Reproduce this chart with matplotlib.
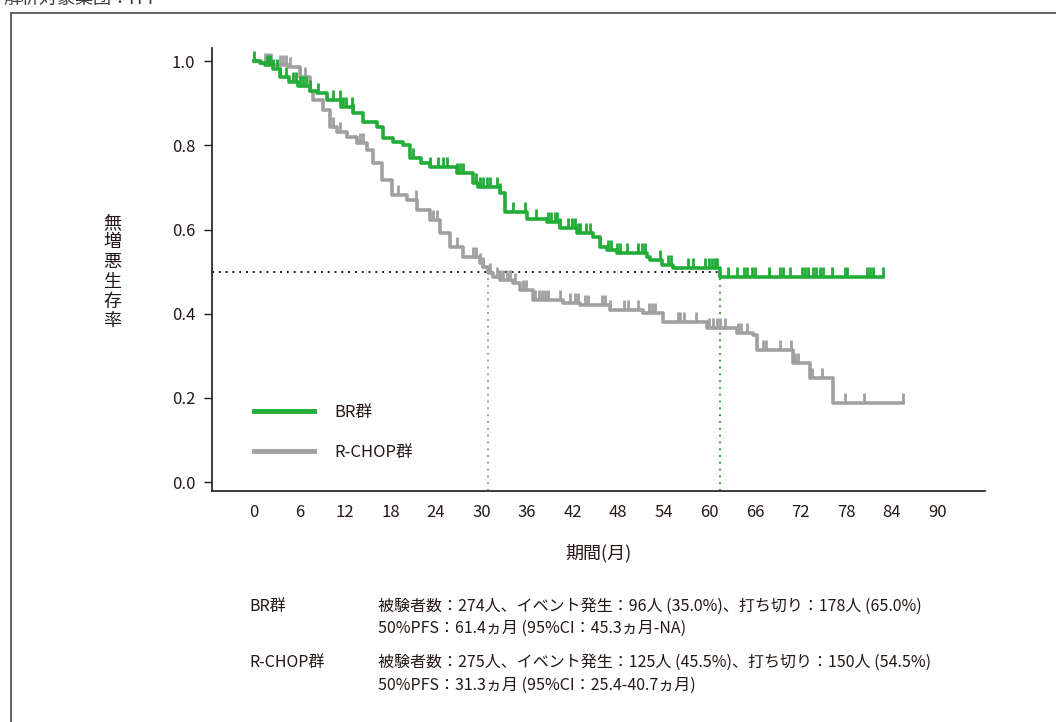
import numpy as np
import matplotlib
matplotlib.use('Agg')
import matplotlib.pyplot as plt
from matplotlib.lines import Line2D

plt.rcParams['font.family'] = ['Noto Sans CJK JP', 'DejaVu Sans']

# DADOS
br_t = [0, 0.8, 1.5, 2.5, 3.4, 4.7, 5.8, 7.4, 8.3, 9.6, 11.5, 13, 14.4, 16.2, 17, 18.3,
        19.6, 20.6, 22, 23.2, 26.7, 28.9, 29.5, 32.4, 33.1, 36, 38.6, 40.3, 42.5, 44.7,
        45.6, 46.5, 47.8, 51.8, 52.2, 53.8, 55.2, 61.4, 82.9]
br_s = [1.0, 0.995, 0.99, 0.98, 0.962, 0.95, 0.94, 0.93, 0.924, 0.907, 0.89, 0.876,
        0.855, 0.843, 0.817, 0.808, 0.80, 0.77, 0.758, 0.748, 0.734, 0.71, 0.70, 0.686,
        0.641, 0.625, 0.618, 0.603, 0.591, 0.582, 0.558, 0.551, 0.544, 0.535, 0.527,
        0.515, 0.508, 0.487, 0.487]
br_cens = [0, 1.7, 2.1, 2.5, 3.0, 3.4, 4.3, 5.2, 5.6, 6.1, 6.5, 6.9, 7.4, 8.5, 10.4,
           11.3, 11.8, 12.2, 12.9, 13.1, 21.0, 23.2, 24.3, 24.9, 25.4, 26.7, 27.1, 27.6,
           29.3, 29.8, 30.2, 30.7, 31.1, 32.0, 32.4, 34.2, 35.7, 37.2, 38.8, 39.2, 39.7,
           39.9, 40.3, 41.4, 41.9, 42.3, 42.7, 43.0, 43.8, 44.3, 45.6, 46.7, 47.1, 47.8,
           48.2, 49.1, 50.6, 51.1, 51.5, 53.5, 54.6, 55.0, 57.2, 57.9, 59.4, 59.9, 60.3,
           60.7, 61.0, 62.5, 63.6, 64.5, 64.9, 65.6, 66.0, 67.8, 69.3, 69.7, 70.6, 72.2,
           72.6, 73.0, 73.7, 74.1, 74.6, 75.0, 76.1, 77.9, 78.1, 80.7, 81.1, 81.6, 82.9]

rchop_t = [0, 1.0, 2.5, 4.7, 6.1, 7.4, 7.8, 9.1, 10, 10.9, 12.3, 13.6, 14.9, 15.7,
           16.9, 18.2, 20.2, 21.5, 23.2, 24.5, 25.8, 27.5, 29.8, 30.2, 30.8, 31.5, 32.4,
           34.1, 35, 36.8, 40.7, 43, 46.9, 51.3, 53.9, 59.7, 63.6, 65.7, 66.3, 71, 73.3,
           76.3, 85.5]
rchop_s = [1.0, 0.995, 0.99, 0.986, 0.962, 0.93, 0.907, 0.884, 0.843, 0.831, 0.82,
           0.805, 0.789, 0.758, 0.717, 0.682, 0.67, 0.646, 0.622, 0.591, 0.558, 0.535,
           0.52, 0.511, 0.496, 0.487, 0.48, 0.473, 0.456, 0.432, 0.425, 0.42, 0.409,
           0.401, 0.38, 0.366, 0.354, 0.349, 0.314, 0.283, 0.247, 0.188, 0.188]
rchop_cens = [1.45, 1.9, 2.3, 3.4, 3.9, 4.3, 4.75, 6.1, 6.7, 10.4, 11.3, 14.0, 14.4,
              19.0, 21.4, 23.6, 24.1, 26.7, 28.9, 29.3, 29.8, 30.2, 31.1, 32.0, 32.4,
              32.85, 33.3, 33.7, 34.4, 35.5, 35.9, 37.0, 37.5, 37.9, 38.3, 38.8, 40.3,
              41.6, 42.3, 42.7, 43.6, 44.0, 45.8, 46.2, 46.9, 48.7, 49.3, 50.6, 52.0,
              52.4, 52.8, 55.9, 56.1, 56.6, 58.3, 59.9, 60.5, 61.0, 61.4, 62.1, 63.8,
              64.2, 64.9, 67.1, 67.5, 69.3, 70.8, 71.3, 71.7, 73.5, 74.8, 77.9, 80.3, 85.5]

br_median = 61.4
rchop_median = 30.8

x_ticks = list(range(0, 91, 6))
y_ticks = [0.0, 0.2, 0.4, 0.6, 0.8, 1.0]

green = '#22ac38'
grey = '#a0a0a0'
dark = '#231815'


def surv_at(t, times, surv):
    i = np.searchsorted(times, t, side='right') - 1
    return np.array(surv)[np.clip(i, 0, len(surv) - 1)]


fig = plt.figure(figsize=(10.56, 7.22), dpi=100)
ax = fig.add_axes([0.2008, 0.3199, 0.7320, 0.6136])

# MEDIANAS
ax.plot([-5.5, br_median], [0.5, 0.5], color='#231815', lw=1.4, ls=(0, (1, 2.5)), zorder=1)
ax.plot([rchop_median, rchop_median], [-0.021, 0.5], color=grey, lw=1.4, ls=(0, (1, 2.5)), zorder=1)
ax.plot([br_median, br_median], [-0.021, 0.5], color=green, lw=1.4, ls=(0, (1, 2.5)), zorder=1)

# CURVAS
for t, s, cens, c, lab in [(rchop_t, rchop_s, rchop_cens, grey, 'R-CHOP群'),
                           (br_t, br_s, br_cens, green, 'BR群')]:
    ax.step(t, s, where='post', color=c, lw=2.6, label=lab, zorder=3)
    cs = surv_at(np.array(cens), t, s)
    ax.vlines(cens, cs, cs + 0.024, color=c, lw=2.0, zorder=3)

ax.set_xlim(-5.5, 96.3)
ax.set_ylim(-0.021, 1.031)
ax.set_xticks(x_ticks)
ax.set_yticks(y_ticks)
ax.set_yticklabels([f'{v:.1f}' for v in y_ticks])
ax.tick_params(axis='x', length=0, pad=9, labelsize=12, colors=dark)
ax.tick_params(axis='y', length=6, width=1, pad=6, labelsize=12, colors=dark)
for sp in ['top', 'right']:
    ax.spines[sp].set_visible(False)
for sp in ['left', 'bottom']:
    ax.spines[sp].set_color(dark)
    ax.spines[sp].set_linewidth(1.2)

h = [Line2D([], [], color=green, lw=3.5), Line2D([], [], color=grey, lw=3.5)]
ax.legend(h, ['BR群', 'R-CHOP群'], loc='lower left', bbox_to_anchor=(0.035, 0.035),
          frameon=False, fontsize=12, handlelength=3.6, handletextpad=1.2,
          labelspacing=1.35, labelcolor=dark)

# ROTULOS
fig.text(112 / 1056, 1 - 272 / 722, '\n'.join('無増悪生存率'), ha='center', va='center',
         fontsize=13, linespacing=1.12, color=dark)
fig.text(598 / 1056, 1 - 553 / 722, '期間(月)', ha='center', va='center', fontsize=13, color=dark)

fig.text(0.003, 1 - 8 / 722, '解析対象集団：ITT', ha='left', va='bottom', fontsize=13, color='#3e3a39')

# MOLDURA
fig.add_artist(Line2D([11 / 1056, 1], [1 - 13 / 722, 1 - 13 / 722], color='#595757', lw=1.3))
fig.add_artist(Line2D([11 / 1056, 11 / 1056], [0, 1 - 13 / 722], color='#595757', lw=1.3))

# TEXTO INFERIOR
rows = [(606, 'BR群', '被験者数：274人、イベント発生：96人 (35.0%)、打ち切り：178人 (65.0%)'),
        (628, None, '50%PFS：61.4ヵ月 (95%CI：45.3ヵ月-NA)'),
        (662, 'R-CHOP群', '被験者数：275人、イベント発生：125人 (45.5%)、打ち切り：150人 (54.5%)'),
        (685, None, '50%PFS：31.3ヵ月 (95%CI：25.4-40.7ヵ月)')]
for y, g, txt in rows:
    if g:
        fig.text(249 / 1056, 1 - y / 722, g, ha='left', va='center', fontsize=11.5, color=dark)
    fig.text(378 / 1056, 1 - y / 722, txt, ha='left', va='center', fontsize=11.5, color=dark)

fig.savefig('out.png', dpi=100)
